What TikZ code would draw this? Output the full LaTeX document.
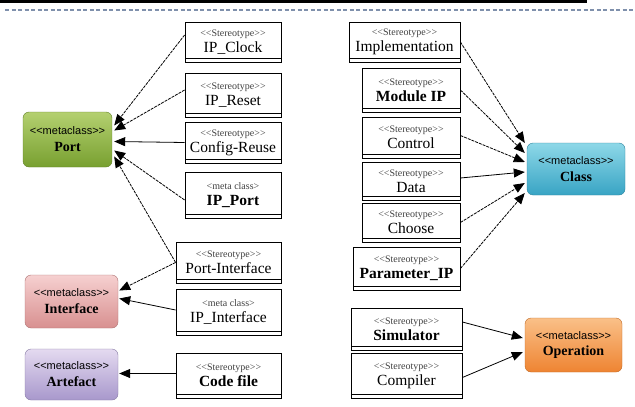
\documentclass[tikz,border=0pt]{standalone}
\usepackage{fontspec}
\setmainfont{Liberation Serif}
\setsansfont{Liberation Sans}
\usetikzlibrary{arrows.meta,calc}

\definecolor{barline}{HTML}{7F90AC}
\definecolor{portTop}{HTML}{B4D070}
\definecolor{portBot}{HTML}{78A030}
\definecolor{ifTop}{HTML}{F6D0D0}
\definecolor{ifBot}{HTML}{D89090}
\definecolor{artTop}{HTML}{E4DAF0}
\definecolor{artBot}{HTML}{A898CC}
\definecolor{clsTop}{HTML}{8ED8E8}
\definecolor{clsBot}{HTML}{38A4C4}
\definecolor{opTop}{HTML}{FAC088}
\definecolor{opBot}{HTML}{EE8432}

\tikzset{
  stereo/.style={draw=black, line width=0.8pt, fill=white, inner sep=0pt,
    align=center, font=\fontsize{15.5}{16}\selectfont,
    path picture={\draw[line width=0.7pt]
      ([yshift=4pt]path picture bounding box.south west) --
      ([yshift=4pt]path picture bounding box.south east);}},
  meta/.style={rounded corners=6pt, inner sep=0pt, align=center,
    font=\fontsize{14}{15}\selectfont\bfseries},
  assoc/.style={line width=0.8pt, -{Triangle[length=11pt,width=9pt]}},
  dassoc/.style={assoc, dash pattern=on 3pt off 1pt},
}
\newcommand{\stt}[1]{{\fontsize{10}{11}\selectfont\color{black!75}#1}\\[0pt]}
\newcommand{\mtt}{{\sffamily\mdseries\fontsize{11}{12}\selectfont <{}<metaclass>{}>}\\[2pt]}

\begin{document}
\begin{tikzpicture}[x=1pt,y=-1pt]
\useasboundingbox (0,0) rectangle (635,407);

% header rule
\fill[black] (0,0) rectangle (587,3);
\draw[barline, line width=1.2pt, dash pattern=on 4pt off 2.5pt] (5,10) -- (633,10);

% stereotype boxes, left group
\node[stereo, minimum width=96pt,  minimum height=40pt] (clk)   at (233,42)    {\stt{<{}<Stereotype>{}>}IP\_Clock};
\node[stereo, minimum width=96pt,  minimum height=44pt] (rst)   at (233,95)    {\stt{<{}<Stereotype>{}>}IP\_Reset};
\node[stereo, minimum width=96pt,  minimum height=41pt] (cfg)   at (233,142.5) {\stt{<{}<Stereotype>{}>}Config-Reuse};
\node[stereo, minimum width=96pt,  minimum height=46pt] (iport) at (233,195)   {\stt{<meta class>}\textbf{IP\_Port}};
\node[stereo, minimum width=105pt, minimum height=41pt] (pif)   at (228.5,262.5) {\stt{<{}<Stereotype>{}>}Port-Interface};
\node[stereo, minimum width=105pt, minimum height=46pt] (iif)   at (228.5,312) {\stt{<meta class>}IP\_Interface};
\node[stereo, minimum width=105pt, minimum height=45pt] (code)  at (228.5,375.5) {\stt{<{}<Stereotype>{}>}\textbf{Code file}};

% stereotype boxes, right group
\node[stereo, minimum width=111pt, minimum height=40pt] (impl)   at (404.5,42)  {\stt{<{}<Stereotype>{}>}Implementation};
\node[stereo, minimum width=98pt,  minimum height=44pt] (mod)    at (411,90)    {\stt{<{}<Stereotype>{}>}\textbf{Module IP}};
\node[stereo, minimum width=98pt,  minimum height=41pt] (ctl)    at (411,137.5) {\stt{<{}<Stereotype>{}>}Control};
\node[stereo, minimum width=98pt,  minimum height=38pt] (data)   at (411,181)   {\stt{<{}<Stereotype>{}>}Data};
\node[stereo, minimum width=98pt,  minimum height=39pt] (choose) at (411,222.5) {\stt{<{}<Stereotype>{}>}Choose};
\node[stereo, minimum width=107pt, minimum height=43pt] (param)  at (406.5,268.5) {\stt{<{}<Stereotype>{}>}\textbf{Parameter\_IP}};
\node[stereo, minimum width=111pt, minimum height=42pt] (sim)    at (406.5,329) {\stt{<{}<Stereotype>{}>}\textbf{Simulator}};
\node[stereo, minimum width=111pt, minimum height=45pt] (comp)   at (406.5,375.5) {\stt{<{}<Stereotype>{}>}Compiler};

% metaclasses
\node[meta, draw=portBot!80!black, top color=portTop, bottom color=portBot,
      minimum width=89pt, minimum height=55pt] (port) at (67.5,139.5) {\mtt Port};
\node[meta, draw=ifBot!80!black, top color=ifTop, bottom color=ifBot,
      minimum width=93pt, minimum height=53pt] (iface) at (71.5,301.5) {\mtt Interface};
\node[meta, draw=artBot!80!black, top color=artTop, bottom color=artBot,
      minimum width=93pt, minimum height=51pt] (art) at (71.5,374.5) {\mtt Artefact};
\node[meta, draw=clsBot!80!black, top color=clsTop, bottom color=clsBot,
      minimum width=98pt, minimum height=52pt] (cls) at (576,169) {\mtt Class};
\node[meta, draw=opBot!80!black, top color=opTop, bottom color=opBot,
      minimum width=97pt, minimum height=54pt] (op) at (573.5,345) {\mtt Operation};

% associations to Port
\draw[dassoc] ([yshift=7pt]clk.west)  -- ([xshift=2pt,yshift=14pt]port.east);
\draw[dassoc] ([yshift=5pt]rst.west)  -- ([xshift=2pt,yshift=9pt]port.east);
\draw[assoc]  (cfg.west)              -- ([xshift=2pt,yshift=-2pt]port.east);
\draw[dassoc] ([yshift=-5pt]iport.west) -- ([xshift=2pt,yshift=-11pt]port.east);
\draw[dassoc] (pif.west)              -- ([xshift=2pt,yshift=-17pt]port.east);

% associations to Interface and Artefact
\draw[dassoc] (pif.west)               -- ([xshift=1pt,yshift=11pt]iface.east);
\draw[assoc]  ([yshift=2pt]iif.west)   -- ([xshift=1pt,yshift=3pt]iface.east);
\draw[assoc]  ([yshift=2pt]code.west)  -- ([xshift=1pt,yshift=2pt]code.west -| art.east);

% associations to Class
\draw[dassoc] (impl.east)               -- ([xshift=-2pt,yshift=26pt]cls.west);
\draw[dassoc] (mod.east)                -- ([xshift=-2pt,yshift=16pt]cls.west);
\draw[dassoc] ([yshift=2pt]ctl.east)    -- ([xshift=-2pt,yshift=7pt]cls.west);
\draw[assoc]  ([yshift=3pt]data.east)   -- ([xshift=-2pt,yshift=-3pt]cls.west);
\draw[dassoc] (choose.east)             -- ([xshift=-2pt,yshift=-14pt]cls.west);
\draw[dassoc] (param.east)              -- ([xshift=-2pt,yshift=-24pt]cls.west);

% associations to Operation
\draw[assoc] ([yshift=7pt]sim.east)   -- ([xshift=-2pt,yshift=7pt]op.west);
\draw[assoc] ([yshift=-2pt]comp.east) -- ([xshift=-2pt,yshift=-7pt]op.west);
\end{tikzpicture}
\end{document}
